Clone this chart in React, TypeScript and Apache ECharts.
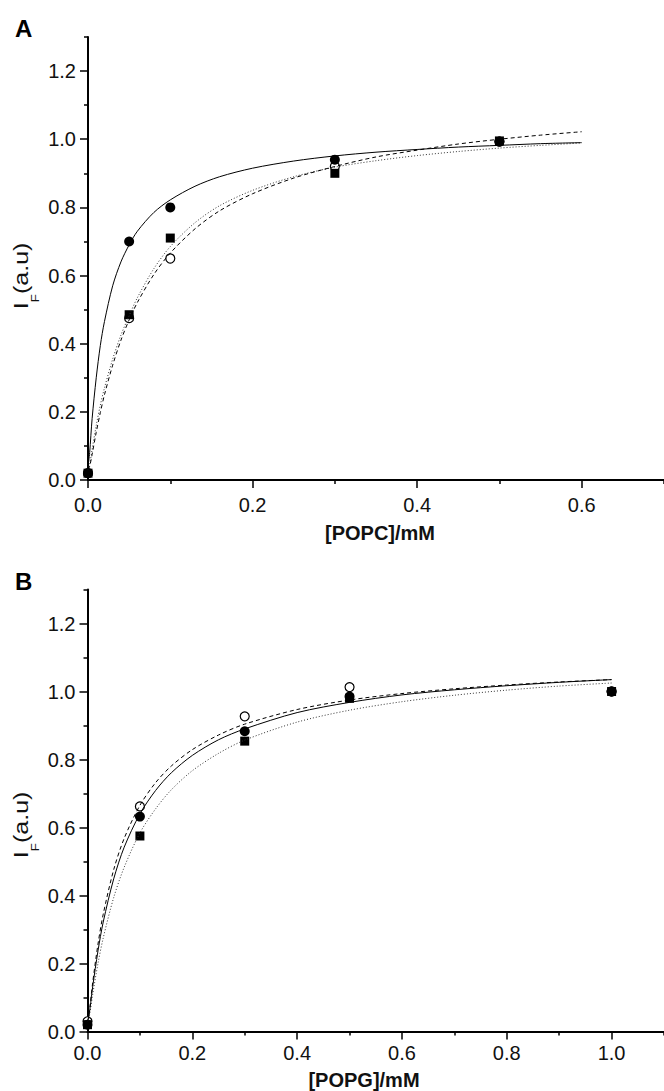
import React, { useEffect, useRef } from "react";
import * as echarts from "echarts";

// ---------- Panel A: POPC ----------
const A_CONC = [0, 0.05, 0.1, 0.3, 0.5];
const A_FILLED_CIRCLE = [0.02, 0.7, 0.8, 0.94, 0.993];
const A_SQUARE = [0.02, 0.485, 0.71, 0.9, 0.995];
const A_OPEN_CIRCLE = [0.02, 0.475, 0.65, 0.92, 0.993];

const A_FIT_X = [0, 0.002, 0.005, 0.01, 0.015, 0.02, 0.03, 0.04, 0.05, 0.06, 0.08, 0.1, 0.13, 0.16, 0.2, 0.25, 0.3, 0.35, 0.4, 0.45, 0.5, 0.55, 0.6];
const A_FIT_SOLID = [0.04, 0.08, 0.18, 0.3, 0.395, 0.465, 0.57, 0.64, 0.69, 0.73, 0.785, 0.822, 0.862, 0.89, 0.915, 0.936, 0.951, 0.962, 0.97, 0.977, 0.982, 0.987, 0.99];
const A_FIT_DASHED = [0.03, 0.04, 0.075, 0.14, 0.198, 0.25, 0.337, 0.41, 0.47, 0.521, 0.603, 0.666, 0.737, 0.79, 0.84, 0.886, 0.92, 0.948, 0.968, 0.986, 1.0, 1.012, 1.022];
const A_FIT_DOTTED = [0.03, 0.045, 0.09, 0.16, 0.22, 0.27, 0.355, 0.425, 0.482, 0.535, 0.62, 0.685, 0.755, 0.805, 0.85, 0.89, 0.918, 0.937, 0.952, 0.964, 0.974, 0.982, 0.989];

// ---------- Panel B: POPG ----------
const B_CONC = [0, 0.1, 0.3, 0.5, 1.0];
const B_OPEN_CIRCLE = [0.03, 0.662, 0.927, 1.013, 1.0];
const B_SQUARE = [0.02, 0.575, 0.854, 0.98, 1.0];
const B_FILLED_CIRCLE = [0.02, 0.632, 0.883, 0.985, 1.0];

const B_FIT_X = [0, 0.002, 0.005, 0.01, 0.02, 0.03, 0.05, 0.07, 0.1, 0.13, 0.16, 0.2, 0.25, 0.3, 0.4, 0.5, 0.6, 0.7, 0.8, 0.9, 1.0];
const B_FIT_SOLID = [0.03, 0.04, 0.071, 0.133, 0.237, 0.322, 0.449, 0.542, 0.64, 0.709, 0.761, 0.812, 0.858, 0.89, 0.938, 0.968, 0.99, 1.005, 1.017, 1.027, 1.035];
const B_FIT_DASHED = [0.03, 0.042, 0.078, 0.145, 0.257, 0.345, 0.476, 0.568, 0.665, 0.732, 0.781, 0.829, 0.872, 0.904, 0.947, 0.975, 0.994, 1.008, 1.019, 1.028, 1.035];
const B_FIT_DOTTED = [0.03, 0.035, 0.058, 0.11, 0.2, 0.275, 0.394, 0.483, 0.584, 0.655, 0.711, 0.767, 0.818, 0.857, 0.91, 0.945, 0.97, 0.989, 1.004, 1.016, 1.025];

// ---------- Ticks ----------
const Y_MAJOR = [0, 0.2, 0.4, 0.6, 0.8, 1.0, 1.2];
const Y_MINOR = [0.1, 0.3, 0.5, 0.7, 0.9, 1.1, 1.3];
const A_X_MAJOR = [0, 0.2, 0.4, 0.6];
const A_X_MINOR = [0.1, 0.3, 0.5, 0.7];
const B_X_MAJOR = [0, 0.2, 0.4, 0.6, 0.8, 1.0];
const B_X_MINOR = [0.1, 0.3, 0.5, 0.7, 0.9, 1.1];

const FONT = "Liberation Sans, Arial, Helvetica, sans-serif";

const zip = (xs: number[], ys: number[]) => xs.map((x, i) => [x, ys[i]]);

function makeAxes(dim: "x" | "y", gridIndex: number, max: number, majors: number[], minors: number[], margin: number) {
  const position = dim === "x" ? "bottom" : "left";
  const major = {
    type: "value",
    gridIndex,
    min: 0,
    max,
    position,
    axisLine: { show: true, onZero: false, lineStyle: { color: "#000", width: 2 } },
    axisTick: { show: true, inside: false, length: 8, customValues: majors, lineStyle: { color: "#000", width: 1.5 } },
    axisLabel: {
      show: true,
      customValues: majors,
      margin,
      formatter: (v: number) => v.toFixed(1),
      fontFamily: FONT,
      fontSize: 20,
      color: "#111",
    },
    splitLine: { show: false },
  };
  const minor = {
    type: "value",
    gridIndex,
    min: 0,
    max,
    position,
    axisLine: { show: false, onZero: false },
    axisTick: { show: true, inside: false, length: 4, customValues: minors, lineStyle: { color: "#000", width: 1.5 } },
    axisLabel: { show: false },
    splitLine: { show: false },
  };
  return [major, minor];
}

function lineSeries(xi: number, yi: number, xs: number[], ys: number[], type: any, color: string) {
  return {
    type: "line",
    xAxisIndex: xi,
    yAxisIndex: yi,
    data: zip(xs, ys),
    symbol: "none",
    showSymbol: false,
    smooth: 0.3,
    silent: true,
    lineStyle: { color, width: 1, type },
  };
}

function scatterSeries(xi: number, yi: number, xs: number[], ys: number[], kind: "filled" | "open" | "square") {
  const base: any = {
    type: "scatter",
    xAxisIndex: xi,
    yAxisIndex: yi,
    data: zip(xs, ys),
    silent: true,
  };
  if (kind === "filled") {
    base.symbol = "circle";
    base.symbolSize = 10;
    base.itemStyle = { color: "#000", opacity: 1 };
  } else if (kind === "open") {
    base.symbol = "circle";
    base.symbolSize = 9;
    base.itemStyle = { color: "#fff", borderColor: "#000", borderWidth: 1.2, opacity: 1 };
  } else {
    base.symbol = "rect";
    base.symbolSize = 9;
    base.itemStyle = { color: "#000", opacity: 1 };
  }
  return base;
}

const yTitleRich = {
  m: { fontFamily: FONT, fontSize: 20, lineHeight: 23, verticalAlign: "top", fill: "#111" },
  s: { fontFamily: FONT, fontSize: 11, lineHeight: 11, padding: [18, 0, 0, 0], verticalAlign: "top", fill: "#111" },
};

export default function App() {
  const ref = useRef<HTMLDivElement>(null);
  useEffect(() => {
    document.body.style.margin = "0";
    if (!ref.current) return;
    const chart = echarts.init(ref.current, undefined, { renderer: "svg" });
    const [axA, axAm] = makeAxes("x", 0, 0.7, A_X_MAJOR, A_X_MINOR, 15);
    const [axB, axBm] = makeAxes("x", 1, 1.1, B_X_MAJOR, B_X_MINOR, 11);
    const [ayA, ayAm] = makeAxes("y", 0, 1.3, Y_MAJOR, Y_MINOR, 12);
    const [ayB, ayBm] = makeAxes("y", 1, 1.3, Y_MAJOR, Y_MINOR, 12);
    chart.setOption({
      animation: false,
      backgroundColor: "#fff",
      grid: [
        { left: 88, top: 37, width: 584, height: 443 },
        { left: 87.5, top: 589.5, width: 585, height: 442 },
      ],
      xAxis: [axA, axAm, axB, axBm],
      yAxis: [ayA, ayAm, ayB, ayBm],
      series: [
        lineSeries(0, 0, A_FIT_X, A_FIT_DOTTED, [1, 2], "#333"),
        lineSeries(0, 0, A_FIT_X, A_FIT_DASHED, [4, 3], "#000"),
        lineSeries(0, 0, A_FIT_X, A_FIT_SOLID, "solid", "#000"),
        scatterSeries(0, 0, A_CONC, A_OPEN_CIRCLE, "open"),
        scatterSeries(0, 0, A_CONC, A_FILLED_CIRCLE, "filled"),
        scatterSeries(0, 0, A_CONC, A_SQUARE, "square"),

        lineSeries(2, 2, B_FIT_X, B_FIT_DOTTED, [1, 2], "#333"),
        lineSeries(2, 2, B_FIT_X, B_FIT_DASHED, [4, 3], "#000"),
        lineSeries(2, 2, B_FIT_X, B_FIT_SOLID, "solid", "#000"),
        scatterSeries(2, 2, B_CONC, B_OPEN_CIRCLE, "open"),
        scatterSeries(2, 2, B_CONC, B_SQUARE, "square"),
        scatterSeries(2, 2, B_CONC, B_FILLED_CIRCLE, "filled"),
      ],
      graphic: [
        { type: "text", x: 15, y: 16, style: { text: "A", fontFamily: FONT, fontWeight: "bold", fontSize: 24, fill: "#000" } },
        { type: "text", x: 15, y: 569, style: { text: "B", fontFamily: FONT, fontWeight: "bold", fontSize: 24, fill: "#000" } },
        {
          type: "text", x: 380, y: 533,
          style: { text: "[POPC]/mM", fontFamily: FONT, fontWeight: "bold", fontSize: 20, fill: "#111", align: "center", verticalAlign: "middle" },
        },
        {
          type: "text", x: 364, y: 1080,
          style: { text: "[POPG]/mM", fontFamily: FONT, fontWeight: "bold", fontSize: 20, fill: "#111", align: "center", verticalAlign: "middle" },
        },
        {
          type: "text", x: 23, y: 276, rotation: Math.PI / 2, scaleX: 1.25,
          style: { text: "{m|I}{s|F}{m|(a.u)}", rich: yTitleRich, align: "center", verticalAlign: "middle" },
        },
        {
          type: "text", x: 23, y: 825, rotation: Math.PI / 2, scaleX: 1.25,
          style: { text: "{m|I}{s|F}{m|(a.u)}", rich: yTitleRich, align: "center", verticalAlign: "middle" },
        },
      ],
    });
    return () => chart.dispose();
  }, []);
  return <div ref={ref} style={{ width: 664, height: 1091 }} />;
}
